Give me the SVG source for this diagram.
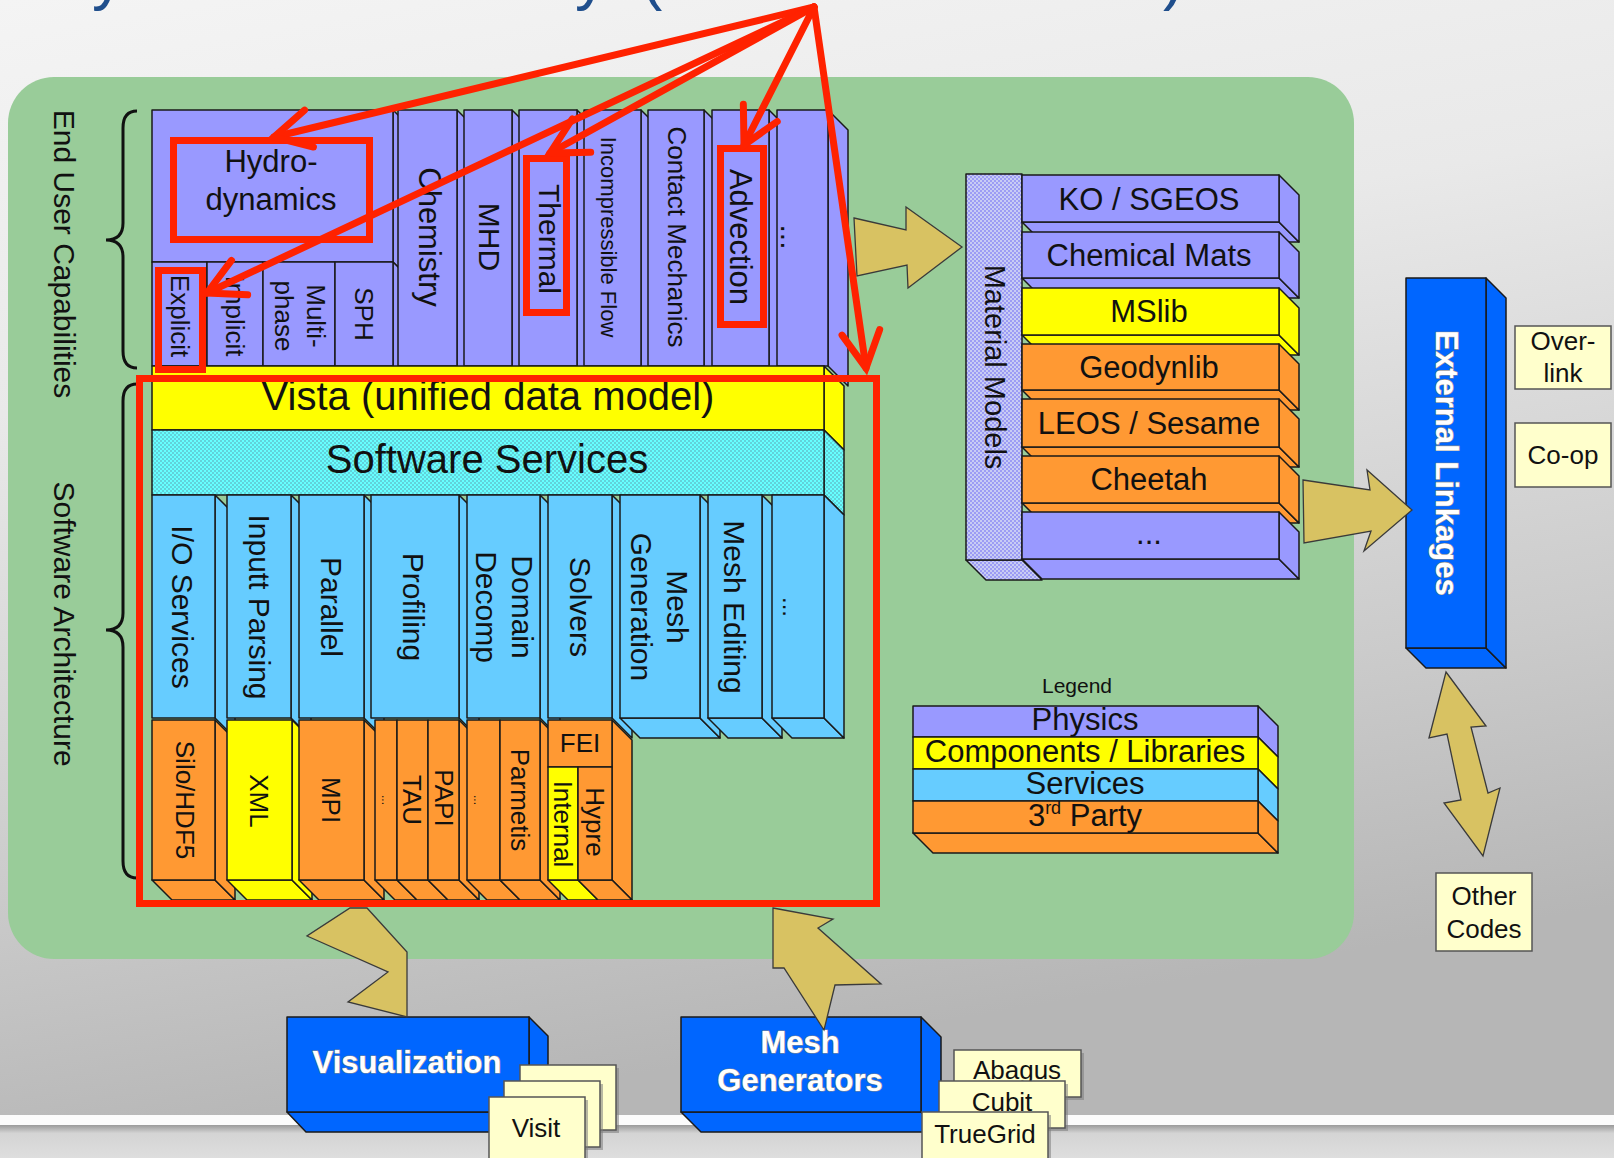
<svg xmlns="http://www.w3.org/2000/svg" width="1614" height="1158" viewBox="0 0 1614 1158">
<defs>
  <linearGradient id="bg" x1="0" y1="0" x2="0.25" y2="1">
    <stop offset="0" stop-color="#f4f4f4"/>
    <stop offset="0.35" stop-color="#e9e9e9"/>
    <stop offset="0.75" stop-color="#cbcbcb"/>
    <stop offset="1" stop-color="#b6b6b6"/>
  </linearGradient>
  <linearGradient id="floor" x1="0" y1="0" x2="0" y2="1">
    <stop offset="0" stop-color="#9a9a9a"/>
    <stop offset="0.25" stop-color="#d4d4d4"/>
    <stop offset="1" stop-color="#dedede"/>
  </linearGradient>
  <pattern id="dotsCyan" width="4" height="4" patternUnits="userSpaceOnUse">
    <rect width="4" height="4" fill="#66ffff"/>
    <rect width="2" height="2" fill="#62d2da"/>
    <rect x="2" y="2" width="2" height="2" fill="#62d2da"/>
  </pattern>
  <pattern id="dotsLav" width="4" height="4" patternUnits="userSpaceOnUse">
    <rect width="4" height="4" fill="#9c9cf4"/>
    <rect width="2" height="2" fill="#c8ccf4"/>
    <rect x="2" y="2" width="2" height="2" fill="#c8ccf4"/>
  </pattern>
  <marker id="chev" markerUnits="userSpaceOnUse" markerWidth="80" markerHeight="80" viewBox="-40 -40 80 80" refX="0" refY="0" orient="auto" overflow="visible">
    <path d="M-36,-19 L0,0 L-36,19" fill="none" stroke="#ff2200" stroke-width="7" stroke-linecap="round" stroke-linejoin="miter"/>
  </marker>
  <style>
    .ln{stroke:#1a1a1a;stroke-width:1.5;stroke-linejoin:round}
    .pu{fill:#9999ff}
    .ye{fill:#ffff00}
    .sv{fill:#66ccff}
    .or{fill:#ff9933}
    .bl{fill:#0066ff}
    .cy{fill:url(#dotsCyan)}
    .lv{fill:url(#dotsLav)}
    .pa{fill:#ffffcc;stroke:#555;stroke-width:1.5}
    .sh{fill:#7d7d7d;opacity:0.55}
    .t{font-family:"Liberation Sans",Arial,sans-serif;fill:#111;text-anchor:middle}
    .c{dominant-baseline:central}
    .wt{font-family:"Liberation Sans",Arial,sans-serif;font-weight:bold;fill:#ffffff;stroke:#8a8a8a;stroke-width:1.2;paint-order:stroke;text-anchor:middle}
    .gold{fill:#d8c262;stroke:#3a3a3a;stroke-width:1.3;stroke-linejoin:miter}
    .rbox{fill:none;stroke:#ff2200;stroke-width:7}
    .rarr{fill:none;stroke:#ff2200;stroke-width:7;stroke-linecap:round;marker-end:url(#chev)}
    .brace{fill:none;stroke:#111;stroke-width:3}
    .ttl{font-family:"Liberation Sans",Arial,sans-serif;fill:#1f4e8c;font-size:64px}
  </style>
</defs>

<!-- slide background -->
<rect x="0" y="0" width="1614" height="1115" fill="url(#bg)"/>
<rect x="0" y="1115" width="1614" height="10" fill="#fbfbfb"/>
<rect x="0" y="1125" width="1614" height="33" fill="url(#floor)"/>

<!-- title line, mostly above the frame -->
<g id="title">
  <text class="ttl" x="92" y="-2">y</text>
  <text class="ttl" x="575" y="-2">y</text>
  <text class="ttl" x="641" y="-2">(</text>
  <text class="ttl" x="1163" y="-2">)</text>
</g>

<!-- green panel -->
<rect id="panel" x="8" y="77" width="1346" height="882" rx="46" fill="#99cc99"/>

<!-- side labels with braces -->
<g id="label-end-user">
  <path class="brace" d="M137,111 Q123,111 123,128 L123,223 Q123,240 106,240 Q123,240 123,257 L123,351 Q123,368 137,368"/>
  <text class="t c" font-size="30" transform="translate(64,254) rotate(90)">End User Capabilities</text>
</g>
<g id="label-software">
  <path class="brace" d="M137,384 Q123,384 123,401 L123,613 Q123,630 106,630 Q123,630 123,647 L123,861 Q123,878 137,878"/>
  <text class="t c" font-size="30" transform="translate(64,624) rotate(90)">Software Architecture</text>
</g>

<!-- physics layer -->
<g id="physics" class="ln">
  <polygon class="pu" points="393,110 413,130 413,282 393,262"/>
  <rect class="pu" x="152" y="110" width="241" height="152"/>
  <rect class="pu" x="152" y="262" width="55" height="104"/>
  <rect class="pu" x="207" y="262" width="56" height="104"/>
  <rect class="pu" x="263" y="262" width="72" height="104"/>
  <polygon class="pu" points="393,262 413,282 413,386 393,366"/>
  <rect class="pu" x="335" y="262" width="58" height="104"/>
  <polygon class="pu" points="457,110 477,130 477,386 457,366"/>
  <rect class="pu" x="398" y="110" width="59" height="256"/>
  <polygon class="pu" points="512,110 532,130 532,386 512,366"/>
  <rect class="pu" x="464" y="110" width="48" height="256"/>
  <polygon class="pu" points="577,110 597,130 597,386 577,366"/>
  <rect class="pu" x="519" y="110" width="58" height="256"/>
  <polygon class="pu" points="641,110 661,130 661,386 641,366"/>
  <rect class="pu" x="584" y="110" width="57" height="256"/>
  <polygon class="pu" points="704,110 724,130 724,386 704,366"/>
  <rect class="pu" x="648" y="110" width="56" height="256"/>
  <polygon class="pu" points="769,110 789,130 789,386 769,366"/>
  <rect class="pu" x="712" y="110" width="57" height="256"/>
  <polygon class="pu" points="828,110 848,130 848,386 828,366"/>
  <rect class="pu" x="777" y="110" width="51" height="256"/>
</g>
<g id="physics-labels">
  <text class="t" font-size="31" x="271" y="172">Hydro-</text>
  <text class="t" font-size="31" x="271" y="210">dynamics</text>
  <text class="t c" font-size="26" transform="translate(180,316) rotate(90)">Explicit</text>
  <text class="t c" font-size="26" transform="translate(235,316) rotate(90)">Implicit</text>
  <text class="t c" font-size="26" transform="translate(300,316) rotate(90)"><tspan x="0" y="-16">Multi-</tspan><tspan x="0" y="16">phase</tspan></text>
  <text class="t c" font-size="26" transform="translate(364,314) rotate(90)">SPH</text>
  <text class="t c" font-size="31" transform="translate(429,237) rotate(90)">Chemistry</text>
  <text class="t c" font-size="30" transform="translate(489,237) rotate(90)">MHD</text>
  <text class="t c" font-size="30" transform="translate(549,239) rotate(90)">Thermal</text>
  <text class="t c" font-size="22" transform="translate(608,237) rotate(90)">Incompressible Flow</text>
  <text class="t c" font-size="26" transform="translate(677,237) rotate(90)">Contact Mechanics</text>
  <text class="t c" font-size="31" transform="translate(740,237) rotate(90)">Advection</text>
  <text class="t c" font-size="30" transform="translate(791,237) rotate(90)">...</text>
</g>

<!-- data model and services bands -->
<g id="vista" class="ln">
  <polygon class="ye" points="824,366 844,386 844,450 824,430"/>
  <rect class="ye" x="152" y="366" width="672" height="64"/>
  <text class="t" font-size="40" x="488" y="410" stroke="none">Vista (unified data model)</text>
</g>
<g id="software-services" class="ln">
  <polygon class="cy" points="824,430 844,450 844,515 824,495"/>
  <rect class="cy" x="152" y="430" width="672" height="65"/>
  <text class="t" font-size="40" x="487" y="473" stroke="none">Software Services</text>
</g>

<!-- service columns -->
<g id="services" class="ln">
  <polygon class="sv" points="215,495 235,515 235,738 215,718"/>
  <rect class="sv" x="152" y="495" width="63" height="223"/>
  <polygon class="sv" points="291,495 311,515 311,738 291,718"/>
  <rect class="sv" x="227" y="495" width="64" height="223"/>
  <polygon class="sv" points="364,495 384,515 384,738 364,718"/>
  <rect class="sv" x="299" y="495" width="65" height="223"/>
  <polygon class="sv" points="459,495 479,515 479,738 459,718"/>
  <rect class="sv" x="371" y="495" width="88" height="223"/>
  <polygon class="sv" points="540,495 560,515 560,738 540,718"/>
  <rect class="sv" x="467" y="495" width="73" height="223"/>
  <polygon class="sv" points="612,495 632,515 632,738 612,718"/>
  <rect class="sv" x="548" y="495" width="64" height="223"/>
  <polygon class="sv" points="620,718 700,718 720,738 640,738"/>
  <polygon class="sv" points="700,495 720,515 720,738 700,718"/>
  <rect class="sv" x="620" y="495" width="80" height="223"/>
  <polygon class="sv" points="708,718 762,718 782,738 728,738"/>
  <polygon class="sv" points="762,495 782,515 782,738 762,718"/>
  <rect class="sv" x="708" y="495" width="54" height="223"/>
  <polygon class="sv" points="772,718 824,718 844,738 792,738"/>
  <polygon class="sv" points="824,495 844,515 844,738 824,718"/>
  <rect class="sv" x="772" y="495" width="52" height="223"/>
</g>
<g id="services-labels">
  <text class="t c" font-size="30" transform="translate(182,607) rotate(90)">I/O Services</text>
  <text class="t c" font-size="30" transform="translate(259,607) rotate(90)">Inputt Parsing</text>
  <text class="t c" font-size="30" transform="translate(331,607) rotate(90)">Parallel</text>
  <text class="t c" font-size="30" transform="translate(413,607) rotate(90)">Profiling</text>
  <text class="t c" font-size="30" transform="translate(505,607) rotate(90)"><tspan x="0" y="-18">Domain</tspan><tspan x="0" y="18">Decomp</tspan></text>
  <text class="t c" font-size="30" transform="translate(580,607) rotate(90)">Solvers</text>
  <text class="t c" font-size="30" transform="translate(660,607) rotate(90)"><tspan x="0" y="-18">Mesh</tspan><tspan x="0" y="18">Generation</tspan></text>
  <text class="t c" font-size="30" transform="translate(734,607) rotate(90)">Mesh Editing</text>
  <text class="t c" font-size="24" transform="translate(791,607) rotate(90)">...</text>
</g>

<!-- third party libraries -->
<g id="third-party" class="ln">
  <polygon class="or" points="152,880 215,880 235,900 172,900"/>
  <polygon class="or" points="215,720 235,740 235,900 215,880"/>
  <rect class="or" x="152" y="720" width="63" height="160"/>
  <polygon class="ye" points="227,880 292,880 312,900 247,900"/>
  <polygon class="ye" points="292,720 312,740 312,900 292,880"/>
  <rect class="ye" x="227" y="720" width="65" height="160"/>
  <polygon class="or" points="299,880 364,880 384,900 319,900"/>
  <polygon class="or" points="364,720 384,740 384,900 364,880"/>
  <rect class="or" x="299" y="720" width="65" height="160"/>
  <polygon class="or" points="375,880 397,880 417,900 395,900"/>
  <rect class="or" x="375" y="720" width="22" height="160"/>
  <polygon class="or" points="397,880 428,880 448,900 417,900"/>
  <rect class="or" x="397" y="720" width="31" height="160"/>
  <polygon class="or" points="428,880 459,880 479,900 448,900"/>
  <polygon class="or" points="459,720 479,740 479,900 459,880"/>
  <rect class="or" x="428" y="720" width="31" height="160"/>
  <polygon class="or" points="467,880 500,880 520,900 487,900"/>
  <rect class="or" x="467" y="720" width="33" height="160"/>
  <polygon class="or" points="500,880 540,880 560,900 520,900"/>
  <polygon class="or" points="540,720 560,740 560,900 540,880"/>
  <rect class="or" x="500" y="720" width="40" height="160"/>
  <polygon class="or" points="612,720 632,740 632,900 612,880"/>
  <rect class="or" x="548" y="720" width="64" height="47"/>
  <polygon class="ye" points="548,880 578,880 598,900 568,900"/>
  <rect class="ye" x="548" y="767" width="30" height="113"/>
  <polygon class="or" points="578,880 612,880 632,900 598,900"/>
  <rect class="or" x="578" y="767" width="34" height="113"/>
</g>
<g id="third-party-labels">
  <text class="t c" font-size="26" transform="translate(185,800) rotate(90)">Silo/HDF5</text>
  <text class="t c" font-size="26" transform="translate(259,801) rotate(90)">XML</text>
  <text class="t c" font-size="26" transform="translate(331,800) rotate(90)">MPI</text>
  <text class="t c" font-size="12" transform="translate(386,800) rotate(90)">...</text>
  <text class="t c" font-size="26" transform="translate(412,800) rotate(90)">TAU</text>
  <text class="t c" font-size="26" transform="translate(444,798) rotate(90)">PAPI</text>
  <text class="t c" font-size="12" transform="translate(478,800) rotate(90)">...</text>
  <text class="t c" font-size="26" transform="translate(520,800) rotate(90)">Parmetis</text>
  <text class="t" font-size="26" x="580" y="752">FEI</text>
  <text class="t c" font-size="26" transform="translate(563,824) rotate(90)">Internal</text>
  <text class="t c" font-size="26" transform="translate(595,822) rotate(90)">Hypre</text>
</g>

<!-- material models -->
<g id="material-models" class="ln">
  <polygon class="lv" points="966,560 1022,560 1042,580 986,580"/>
  <rect class="lv" x="966" y="174" width="56" height="386"/>
  <polygon class="pu" points="1022,222 1279,222 1299,242 1042,242"/>
  <polygon class="pu" points="1279,175 1299,195 1299,242 1279,222"/>
  <rect class="pu" x="1022" y="175" width="257" height="47"/>
  <polygon class="pu" points="1022,278 1279,278 1299,298 1042,298"/>
  <polygon class="pu" points="1279,232 1299,252 1299,298 1279,278"/>
  <rect class="pu" x="1022" y="232" width="257" height="46"/>
  <polygon class="ye" points="1022,335 1279,335 1299,355 1042,355"/>
  <polygon class="ye" points="1279,288 1299,308 1299,355 1279,335"/>
  <rect class="ye" x="1022" y="288" width="257" height="47"/>
  <polygon class="or" points="1022,390 1279,390 1299,410 1042,410"/>
  <polygon class="or" points="1279,344 1299,364 1299,410 1279,390"/>
  <rect class="or" x="1022" y="344" width="257" height="46"/>
  <polygon class="or" points="1022,447 1279,447 1299,467 1042,467"/>
  <polygon class="or" points="1279,399 1299,419 1299,467 1279,447"/>
  <rect class="or" x="1022" y="399" width="257" height="48"/>
  <polygon class="or" points="1022,503 1279,503 1299,523 1042,523"/>
  <polygon class="or" points="1279,456 1299,476 1299,523 1279,503"/>
  <rect class="or" x="1022" y="456" width="257" height="47"/>
  <polygon class="pu" points="1022,559 1279,559 1299,579 1042,579"/>
  <polygon class="pu" points="1279,512 1299,532 1299,579 1279,559"/>
  <rect class="pu" x="1022" y="512" width="257" height="47"/>
</g>
<g id="material-labels">
  <text class="t c" font-size="29" transform="translate(995,367) rotate(90)">Material Models</text>
  <text class="t" font-size="31" x="1149" y="210">KO / SGEOS</text>
  <text class="t" font-size="31" x="1149" y="266">Chemical Mats</text>
  <text class="t" font-size="31" x="1149" y="322">MSlib</text>
  <text class="t" font-size="31" x="1149" y="378">Geodynlib</text>
  <text class="t" font-size="31" x="1149" y="434">LEOS / Sesame</text>
  <text class="t" font-size="31" x="1149" y="490">Cheetah</text>
  <text class="t" font-size="31" x="1149" y="544">...</text>
</g>

<!-- external linkages -->
<g id="external-linkages" class="ln">
  <polygon class="bl" points="1406,648 1486,648 1506,668 1426,668"/>
  <polygon class="bl" points="1486,278 1506,298 1506,668 1486,648"/>
  <rect class="bl" x="1406" y="278" width="80" height="370"/>
  <text class="wt c" font-size="31" transform="translate(1446,463) rotate(90)">External Linkages</text>
</g>
<g id="over-link">
  <rect class="pa" x="1515" y="326" width="96" height="63"/>
  <text class="t" font-size="26" x="1563" y="350">Over-</text>
  <text class="t" font-size="26" x="1563" y="382">link</text>
</g>
<g id="co-op">
  <rect class="pa" x="1515" y="423" width="96" height="64"/>
  <text class="t" font-size="26" x="1563" y="464">Co-op</text>
</g>
<g id="other-codes">
  <rect class="pa" x="1436" y="873" width="96" height="78"/>
  <text class="t" font-size="26" x="1484" y="905">Other</text>
  <text class="t" font-size="26" x="1484" y="938">Codes</text>
</g>

<!-- legend -->
<g id="legend" class="ln">
  <text class="t" font-size="21" x="1077" y="693" stroke="none">Legend</text>
  <polygon class="or" points="913,833 1258,833 1278,853 933,853"/>
  <polygon class="pu" points="1258,706 1278,726 1278,757 1258,737"/>
  <rect class="pu" x="913" y="706" width="345" height="31"/>
  <polygon class="ye" points="1258,737 1278,757 1278,789 1258,769"/>
  <rect class="ye" x="913" y="737" width="345" height="32"/>
  <polygon class="sv" points="1258,769 1278,789 1278,821 1258,801"/>
  <rect class="sv" x="913" y="769" width="345" height="32"/>
  <polygon class="or" points="1258,801 1278,821 1278,853 1258,833"/>
  <rect class="or" x="913" y="801" width="345" height="32"/>
  <g stroke="none">
    <text class="t" font-size="31" x="1085" y="730">Physics</text>
    <text class="t" font-size="31" x="1085" y="762">Components / Libraries</text>
    <text class="t" font-size="31" x="1085" y="794">Services</text>
    <text class="t" font-size="31" x="1085" y="826">3<tspan font-size="18" dy="-12">rd</tspan><tspan dy="12"> Party</tspan></text>
  </g>
</g>

<!-- visualization -->
<g id="visualization" class="ln">
  <polygon class="bl" points="287,1112 529,1112 548,1132 306,1132"/>
  <polygon class="bl" points="529,1017 548,1036 548,1132 529,1112"/>
  <rect class="bl" x="287" y="1017" width="242" height="95"/>
  <text class="wt" font-size="31" x="407" y="1073">Visualization</text>
</g>
<g id="visit">
  <rect class="sh" x="523" y="1068" width="96" height="65"/>
  <rect class="pa" x="520" y="1065" width="96" height="65"/>
  <rect class="sh" x="507" y="1084" width="96" height="66"/>
  <rect class="pa" x="504" y="1081" width="96" height="66"/>
  <rect class="sh" x="492" y="1100" width="96" height="70"/>
  <rect class="pa" x="489" y="1097" width="96" height="70"/>
  <text class="t" font-size="26" x="536" y="1137">Visit</text>
</g>

<!-- mesh generators -->
<g id="mesh-generators" class="ln">
  <polygon class="bl" points="681,1112 921,1112 941,1132 701,1132"/>
  <polygon class="bl" points="921,1017 941,1037 941,1132 921,1112"/>
  <rect class="bl" x="681" y="1017" width="240" height="95"/>
  <text class="wt" font-size="31" x="800" y="1053">Mesh</text>
  <text class="wt" font-size="31" x="800" y="1091">Generators</text>
</g>
<g id="mesh-tools">
  <rect class="sh" x="957" y="1053" width="127" height="47"/>
  <rect class="pa" x="954" y="1050" width="127" height="47"/>
  <text class="t" font-size="26" x="1017" y="1079">Abagus</text>
  <rect class="sh" x="942" y="1084" width="126" height="47"/>
  <rect class="pa" x="939" y="1081" width="126" height="47"/>
  <text class="t" font-size="26" x="1002" y="1111">Cubit</text>
  <rect class="sh" x="925" y="1115" width="126" height="50"/>
  <rect class="pa" x="922" y="1112" width="126" height="50"/>
  <text class="t" font-size="26" x="985" y="1143">TrueGrid</text>
</g>

<!-- connectors -->
<g id="connectors">
  <polygon class="gold" points="854,218 906,230 906,207 962,247 908,288 907,265 857,276"/>
  <polygon class="gold" points="1303,480 1370,490 1367,470 1412,510 1364,551 1371,531 1304,543"/>
  <polygon class="gold" points="1446,672 1486,726 1471,727 1488,793 1500,788 1483,856 1444,803 1461,800 1447,734 1429,738"/>
  <polygon class="gold" points="350,908 367,908 407,952 407,1017 348,1002 388,972 307,936"/>
  <polygon class="gold" points="773,908 833,919 818,928 881,984 835,985 824,1030 784,968 773,968"/>

  <rect class="rbox" x="173.5" y="140.5" width="196" height="99"/>
  <rect class="rbox" x="158.5" y="270.5" width="44" height="99"/>
  <rect class="rbox" x="526.5" y="158.5" width="40" height="154"/>
  <rect class="rbox" x="720.5" y="148.5" width="43" height="176"/>
  <rect class="rbox" x="139.5" y="378.5" width="737" height="525"/>

  <line class="rarr" x1="814" y1="7" x2="274" y2="137"/>
  <line class="rarr" x1="814" y1="7" x2="207" y2="293"/>
  <line class="rarr" x1="814" y1="7" x2="550" y2="153"/>
  <line class="rarr" x1="814" y1="7" x2="744" y2="145"/>
  <line class="rarr" x1="814" y1="7" x2="866" y2="368"/>
</g>
</svg>
